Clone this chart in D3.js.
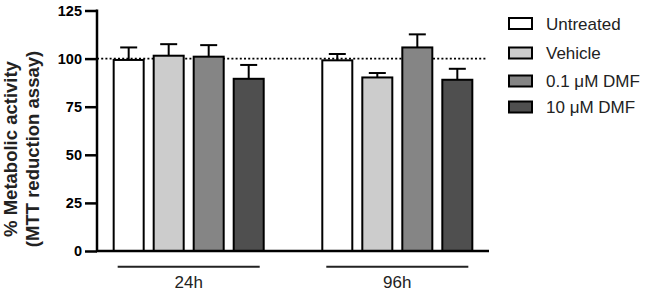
<!DOCTYPE html>
<html>
<head>
<meta charset="utf-8">
<script src="https://cdn.jsdelivr.net/npm/d3@7"></script>
<style>
body { margin: 0; background: #fff; }
text { font-family: Arial, "Liberation Sans", sans-serif; }
</style>
</head>
<body>
<div id="chart"></div>
<script>
// data
var groups = ["24h", "96h"];
var series = ["Untreated", "Vehicle", "0.1 \u03BCM DMF", "10 \u03BCM DMF"];
var untreated = [99.3, 99.1];
var vehicle = [101.5, 90.2];
var dmf01 = [101, 105.8];
var dmf10 = [89.5, 89];
var untreatedErr = [6.5, 3.3];
var vehicleErr = [6, 2.3];
var dmf01Err = [6, 6.8];
var dmf10Err = [7.2, 5.7];
var yTicks = [0, 25, 50, 75, 100, 125];
var colors = ["#ffffff", "#cccccc", "#858585", "#4f4f4f"];

var means = [untreated, vehicle, dmf01, dmf10];
var errs = [untreatedErr, vehicleErr, dmf01Err, dmf10Err];

var W = 645, H = 293;
var plotLeft = 97, plotRight = 489, plotTop = 10.5, plotBottom = 251;

var svg = d3.select("#chart").append("svg")
.attr("width", W)
.attr("height", H);

var y = d3.scaleLinear().domain([0, 125]).range([plotBottom, plotTop]);
var x0 = d3.scaleBand().domain(groups).range([plotLeft, plotRight]).paddingInner(0.185).paddingOuter(0.032);
var x1 = d3.scaleBand().domain(series).range([0, x0.bandwidth()]).padding(0.25);

// flatten to one record per bar
var bars = [];
groups.forEach(function(g, gi) {
    series.forEach(function(s, si) {
        bars.push({group: g, key: s, value: means[si][gi], err: errs[si][gi], color: colors[si]});
    });
});

function cx(d) { return x0(d.group) + x1(d.key) + x1.bandwidth() / 2; }

// dotted reference line at 100
svg.append("line")
.attr("x1", plotLeft).attr("x2", plotRight - 2)
.attr("y1", y(100)).attr("y2", y(100))
.attr("stroke", "#000")
.attr("stroke-width", 1.6)
.attr("stroke-dasharray", "2,2.2");

// error bars (upper only)
var eb = svg.append("g").selectAll("g")
.data(bars).enter().append("g");
eb.append("line")
.attr("x1", cx)
.attr("x2", cx)
.attr("y1", function(d) { return y(d.value); })
.attr("y2", function(d) { return y(d.value + d.err); })
.attr("stroke", "#000").attr("stroke-width", 2);
eb.append("line")
.attr("x1", function(d) { return cx(d) - 8.5; })
.attr("x2", function(d) { return cx(d) + 8.5; })
.attr("y1", function(d) { return y(d.value + d.err); })
.attr("y2", function(d) { return y(d.value + d.err); })
.attr("stroke", "#000").attr("stroke-width", 2);

// bars
svg.append("g").selectAll("rect")
.data(bars).enter().append("rect")
.attr("x", function(d) { return x0(d.group) + x1(d.key); })
.attr("y", function(d) { return y(d.value); })
.attr("width", x1.bandwidth())
.attr("height", function(d) { return y(0) - y(d.value); })
.attr("fill", function(d) { return d.color; })
.attr("stroke", "#000")
.attr("stroke-width", 2);

// y axis
var yAxis = svg.append("g")
.attr("transform", "translate(" + plotLeft + ",0)")
.call(d3.axisLeft(y).tickValues(yTicks).tickSize(12).tickPadding(3).tickSizeOuter(0));
yAxis.select(".domain").attr("stroke-width", 2.5).attr("d", "M0," + (plotTop - 1) + "V" + plotBottom);
yAxis.selectAll(".tick line").attr("stroke-width", 2.5);
yAxis.selectAll(".tick text")
.attr("font-size", 14.5)
.attr("font-weight", "bold")
.attr("font-family", "Arial, 'Liberation Sans', sans-serif")
.attr("fill", "#000");

// x axis baseline
svg.append("line")
.attr("x1", plotLeft - 1).attr("x2", plotRight)
.attr("y1", plotBottom).attr("y2", plotBottom)
.attr("stroke", "#000").attr("stroke-width", 2.5);

// group underlines and labels
var gl = svg.append("g").selectAll("g")
.data(groups).enter().append("g");
gl.append("line")
.attr("x1", function(d) { return x0(d) + 14; })
.attr("x2", function(d) { return x0(d) + x0.bandwidth() - 14; })
.attr("y1", 266.7).attr("y2", 266.7)
.attr("stroke", "#222").attr("stroke-width", 2);
gl.append("text")
.attr("x", function(d) { return x0(d) + x0.bandwidth() / 2; })
.attr("y", 288)
.attr("text-anchor", "middle")
.attr("font-size", 17)
.attr("fill", "#222")
.text(function(d) { return d; });

// y axis title
var title = svg.append("text")
.attr("transform", "translate(0,149) rotate(-90)")
.attr("text-anchor", "middle")
.attr("font-size", 18.5)
.attr("font-weight", "bold")
.attr("fill", "#222");
title.append("tspan").attr("x", 0).attr("y", 17).text("% Metabolic activity");
title.append("tspan").attr("x", 0).attr("y", 39).text("(MTT reduction assay)");

// legend
var legendY = [23.5, 53, 81, 107];
var lg = svg.append("g").selectAll("g")
.data(series).enter().append("g")
.attr("transform", function(d, i) { return "translate(509," + legendY[i] + ")"; });
lg.append("rect")
.attr("x", 0).attr("y", -5.5)
.attr("width", 23).attr("height", 11)
.attr("fill", function(d, i) { return colors[i]; })
.attr("stroke", "#000").attr("stroke-width", 2);
lg.append("text")
.attr("x", 37).attr("y", 6)
.attr("font-size", 17)
.attr("fill", "#222")
.text(function(d) { return d; });
</script>
</body>
</html>
